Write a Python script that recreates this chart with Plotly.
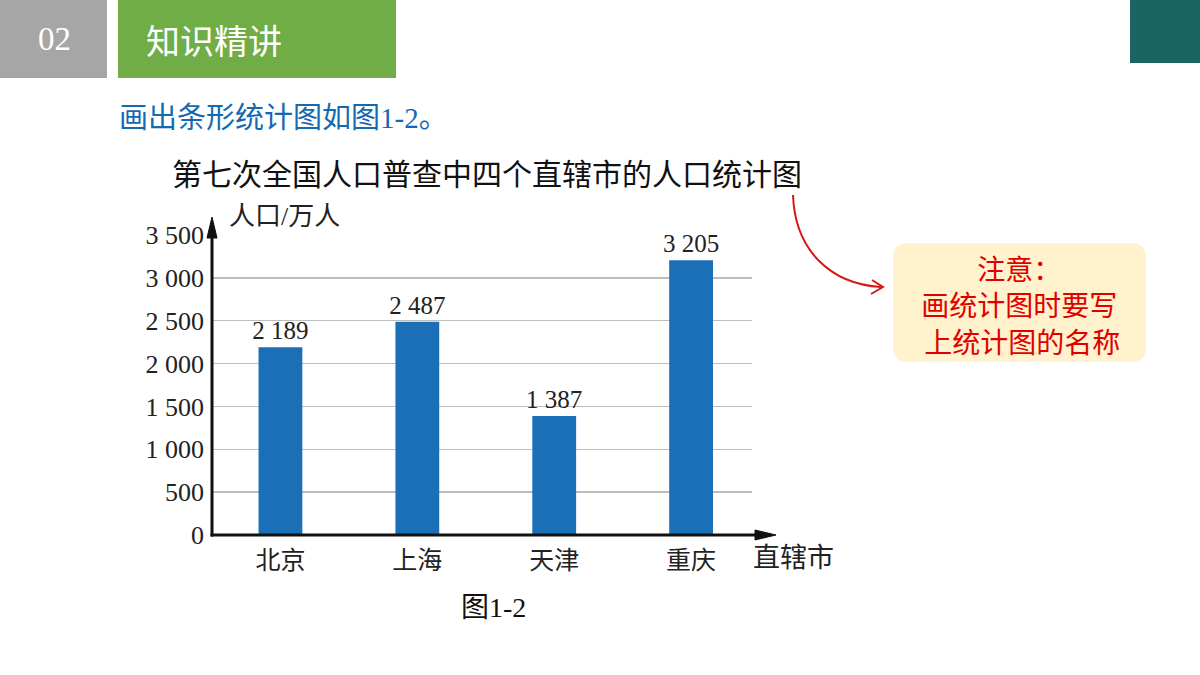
import plotly.graph_objects as go

# ---- data ----
cities = ["北京", "上海", "天津", "重庆"]
population = [2189, 2487, 1387, 3205]
y_ticks = [0, 500, 1000, 1500, 2000, 2500, 3000, 3500]

def fmt(v):
    return f"{v:,}".replace(",", " ")

W, H = 1200, 675
SERIF = "Liberation Serif, Noto Sans CJK SC"
SANS = "Noto Sans CJK SC, Noto Sans"

# pixel geometry of plot area
x_left, x_right = 212, 752
y_bottom, y_top = 535, 235

fig = go.Figure()
fig.add_trace(go.Bar(
    x=list(range(len(cities))), y=population,
    width=0.32,
    marker=dict(color="#1B6FB7", line=dict(width=0)),
    text=[fmt(v) for v in population],
    textposition="outside",
    constraintext="none",
    textfont=dict(family="Liberation Serif", size=25, color="#222"),
    cliponaxis=False,
    xaxis="x", yaxis="y",
    hoverinfo="skip",
))

# invisible overlay trace to activate the pixel axes
fig.add_trace(go.Scatter(x=[0], y=[0], xaxis="x2", yaxis="y2", mode="markers",
                         marker=dict(opacity=0), hoverinfo="skip", showlegend=False))

shapes = []
annotations = []

# header blocks
shapes.append(dict(type="rect", xref="x2", yref="y2", x0=0, x1=107, y0=0, y1=78,
                   fillcolor="#A6A6A6", line=dict(width=0), layer="below"))
shapes.append(dict(type="rect", xref="x2", yref="y2", x0=118, x1=396, y0=0, y1=78,
                   fillcolor="#70AD47", line=dict(width=0), layer="below"))
shapes.append(dict(type="rect", xref="x2", yref="y2", x0=1130, x1=1200, y0=0, y1=63,
                   fillcolor="#1B6464", line=dict(width=0), layer="below"))
annotations.append(dict(xref="x2", yref="y2", x=54, y=39, text="02", showarrow=False,
                        font=dict(family="Liberation Serif", size=33, color="white")))
annotations.append(dict(xref="x2", yref="y2", x=144, y=39, text="知识精讲", showarrow=False,
                        xanchor="left", font=dict(family=SANS, size=34, color="white")))

# subtitle
annotations.append(dict(xref="x2", yref="y2", x=117, y=118, text="画出条形统计图如图1-2。",
                        showarrow=False, xanchor="left",
                        font=dict(family=SERIF, size=29, color="#1569B0")))
# chart title
annotations.append(dict(xref="x2", yref="y2", x=487, y=172,
                        text="第七次全国人口普查中四个直辖市的人口统计图",
                        showarrow=False, font=dict(family=SANS, size=30, color="#111")))
# axis titles
annotations.append(dict(xref="x2", yref="y2", x=227, y=216, text="人口/万人",
                        showarrow=False, xanchor="left",
                        font=dict(family=SERIF, size=26, color="#222")))
annotations.append(dict(xref="x2", yref="y2", x=751, y=558, text="直辖市",
                        showarrow=False, xanchor="left",
                        font=dict(family=SERIF, size=27, color="#222")))
annotations.append(dict(xref="x2", yref="y2", x=493, y=607, text="图1-2",
                        showarrow=False,
                        font=dict(family=SERIF, size=28, color="#111")))

# axes with arrows
shapes.append(dict(type="line", xref="x2", yref="y2", x0=x_left, x1=x_left, y0=y_bottom + 1.5,
                   y1=232, line=dict(color="#111", width=3)))
shapes.append(dict(type="path", xref="x2", yref="y2",
                   path=f"M {x_left-5} 238 L {x_left} 217 L {x_left+5} 238 Z",
                   fillcolor="#111", line=dict(color="#111", width=1)))
shapes.append(dict(type="line", xref="x2", yref="y2", x0=x_left - 1.5, x1=760, y0=y_bottom,
                   y1=y_bottom, line=dict(color="#111", width=3)))
shapes.append(dict(type="path", xref="x2", yref="y2",
                   path=f"M 755 {y_bottom-5} L 776 {y_bottom} L 755 {y_bottom+5} Z",
                   fillcolor="#111", line=dict(color="#111", width=1)))

# callout
shapes.append(dict(type="path", xref="x2", yref="y2",
                   path="M 908 243 L 1131 243 Q 1146 243 1146 258 L 1146 347 Q 1146 362 1131 362 "
                        "L 908 362 Q 893 362 893 347 L 893 258 Q 893 243 908 243 Z",
                   fillcolor="#FFF2CC", line=dict(width=0), layer="below"))
annotations.append(dict(xref="x2", yref="y2", x=1019, y=304,
                        text="注意：<br>画统计图时要写<br> 上统计图的名称",
                        showarrow=False, align="center",
                        font=dict(family=SANS, size=28, color="#E00000")))
shapes.append(dict(type="path", xref="x2", yref="y2",
                   path="M 793 195 C 795 250, 830 284, 881 287",
                   line=dict(color="#D81818", width=2)))
shapes.append(dict(type="path", xref="x2", yref="y2",
                   path="M 872 280 L 883 287 L 871 294",
                   line=dict(color="#D81818", width=2)))

fig.update_layout(
    template="none",
    width=W, height=H,
    margin=dict(l=0, r=0, t=0, b=0, pad=0, autoexpand=False),
    paper_bgcolor="white", plot_bgcolor="rgba(0,0,0,0)",
    showlegend=False,
    shapes=shapes, annotations=annotations,
    xaxis=dict(domain=[x_left / W, x_right / W], range=[-0.5, 3.445],
               tickvals=list(range(len(cities))), ticktext=cities,
               tickfont=dict(family=SERIF, size=25, color="#222"),
               showgrid=False, zeroline=False, showline=False, ticks="",
               ticklabelstandoff=8, fixedrange=True, automargin=False),
    yaxis=dict(domain=[1 - y_bottom / H, 1 - y_top / H], range=[0, 3500],
               tickvals=y_ticks, ticktext=[fmt(v) for v in y_ticks],
               tickfont=dict(family="Liberation Serif", size=26, color="#222"),
               showgrid=True, gridcolor="#BDBDBD", gridwidth=1.5,
               zeroline=False, showline=False, ticks="", ticklabelstandoff=7,
               fixedrange=True, automargin=False),
    xaxis2=dict(domain=[0, 1], range=[0, W], visible=False, anchor="y2",
                fixedrange=True, automargin=False),
    yaxis2=dict(domain=[0, 1], range=[H, 0], visible=False, anchor="x2",
                fixedrange=True, automargin=False),
)
fig.write_html("out.html", config={"displayModeBar": False, "staticPlot": True},
               post_script="document.body.style.margin='0';document.body.style.overflow='hidden';")
